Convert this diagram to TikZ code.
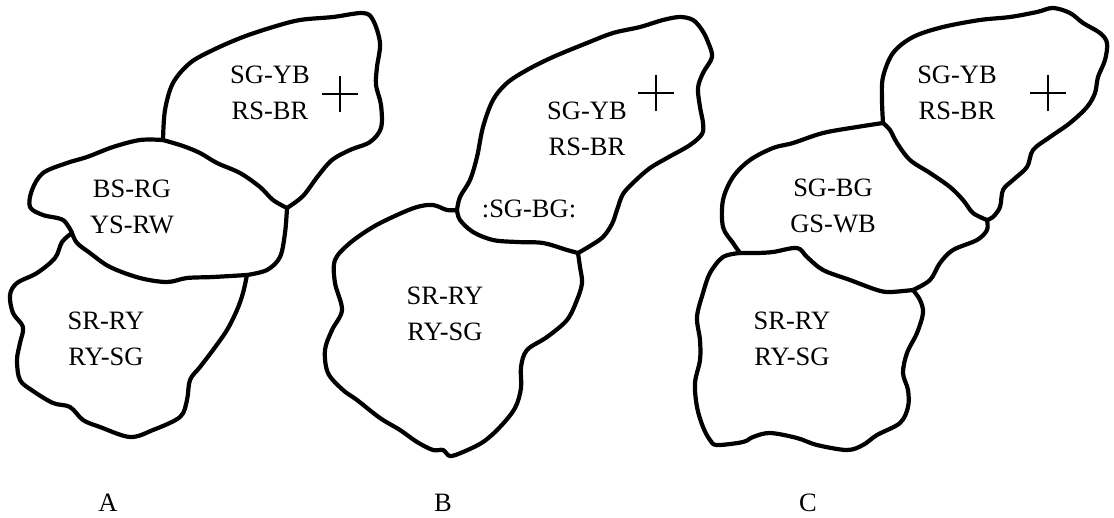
\documentclass[tikz,border=0pt]{standalone}
\usepackage{fontspec}
\setmainfont{Liberation Serif}
\begin{document}
\begin{tikzpicture}[x=1pt,y=-1pt,
  outline/.style={line width=4.2pt,line join=round,line cap=round},
  region/.style={align=center,font=\fontsize{26.5}{36}\selectfont,inner sep=0pt},
  figlabel/.style={font=\fontsize{26.5}{30}\selectfont,inner sep=0pt},
  crossmark/.style={line width=1.2pt}]
\useasboundingbox (0,0) rectangle (1114,517);
\tikzset{sm/.style={smooth,tension=0.55}}
% ---------- Figure A ----------
\draw[outline] plot[sm] coordinates {(163,140)(165,110)(173,83)(190,63)(213,50)(243,37)(273,27)(300,20)(333,17)(363,13)(373,20)(380,43)(377,67)(376,85)(381,105)(381,128)(370,142)(350,150)(332,160)(318,176)(303,196)(287,208)};
\draw[outline] plot[sm] coordinates {(163,140)(183,146)(200,153)(217,163)(240,173)(260,187)(273,200)(287,208)};
\draw[outline] plot[sm] coordinates {(163,140)(140,140)(113,147)(87,157)(67,163)(43,173)(32,190)(30,207)(43,215)(63,220)(72,233)};
\draw[outline] plot[sm] coordinates {(72,233)(77,243)(90,253)(110,267)(140,278)(167,282)(187,278)(213,277)(247,275)};
\draw[outline] plot[sm] coordinates {(247,275)(267,270)(280,257)(285,233)(287,208)};
\draw[outline] plot[sm] coordinates {(72,233)(62,242)(55,258)(37,273)(17,283)(10,295)(13,313)(23,327)(20,343)(17,360)(20,380)(33,391)(53,403)(70,407)(83,420)(100,427)(130,437)(153,430)(180,417)(187,400)(190,380)(200,367)(213,350)(227,330)(237,310)(243,293)(247,275)};
\node[region] (a1) at (270,93) {SG-YB\\RS-BR};
\node[region] (a2) at (132,207) {BS-RG\\YS-RW};
\node[region] (a3) at (106,339) {SR-RY\\RY-SG};
\coordinate (pa) at (340,94);
\draw[crossmark] ([xshift=-18pt]pa) -- ([xshift=18pt]pa) ([yshift=-18pt]pa) -- ([yshift=18pt]pa);
\node[figlabel] (la) at (108,503) {A};
% ---------- Figure B ----------
\draw[outline] plot[sm] coordinates {(457,210)(460,197)(470,180)(477,157)(483,127)(493,100)(507,83)(527,70)(553,57)(587,43)(613,33)(640,27)(663,20)(680,17)(693,20)(702,30)(708,42)(712,57)(703,73)(698,88)(700,107)(703,123)(702,134)(690,145)(667,158)(650,168)(635,181)(623,194)(617,210)(612,224)(603,237)(590,246)(578,253)};
\draw[outline] plot[sm] coordinates {(457,210)(460,220)(473,232)(493,240)(517,242)(543,243)(567,250)(578,253)};
\draw[outline] plot[sm] coordinates {(457,210)(447,210)(433,205)(417,207)(397,215)(373,227)(350,243)(335,260)(335,283)(342,310)(332,330)(325,350)(328,373)(343,390)(357,400)(380,418)(400,430)(417,442)(433,450)(443,450)(450,456)(463,452)(483,442)(500,427)(515,408)(521,388)(521,367)(527,350)(547,337)(567,320)(577,300)(582,283)(580,267)(578,253)};
\node[region] (b1) at (587,129) {SG-YB\\RS-BR};
\node[region] (b2) at (529,209) {:SG-BG:};
\node[region] (b3) at (445,314) {SR-RY\\RY-SG};
\coordinate (pb) at (656,93);
\draw[crossmark] ([xshift=-18pt]pb) -- ([xshift=18pt]pb) ([yshift=-18pt]pb) -- ([yshift=18pt]pb);
\node[figlabel] (lb) at (443,503) {B};
% ---------- Figure C ----------
\draw[outline] plot[sm] coordinates {(883,123)(882,100)(883,77)(893,53)(913,37)(943,27)(980,20)(1010,17)(1037,12)(1053,8)(1070,13)(1083,23)(1100,33)(1107,43)(1105,60)(1098,77)(1095,93)(1087,107)(1070,123)(1050,137)(1033,150)(1027,167)(1013,180)(1003,190)(1000,207)(993,217)(987,220)};
\draw[outline] plot[sm] coordinates {(883,123)(890,130)(897,143)(910,160)(930,173)(950,187)(963,200)(973,213)(987,220)};
\draw[outline] plot[sm] coordinates {(883,123)(857,127)(823,133)(793,143)(773,148)(750,160)(733,177)(723,200)(723,227)(733,243)(740,253)};
\draw[outline] plot[sm] coordinates {(740,253)(757,253)(773,252)(797,248)(807,257)(823,270)(850,280)(877,290)(890,292)(913,290)};
\draw[outline] plot[sm] coordinates {(913,290)(930,280)(940,263)(953,250)(977,240)(987,230)(987,220)};
\draw[outline] plot[sm] coordinates {(740,253)(723,257)(710,273)(703,293)(697,317)(700,340)(700,360)(695,383)(697,407)(703,427)(710,440)(717,445)(743,442)(753,437)(770,433)(797,438)(817,445)(847,450)(863,445)(877,435)(900,423)(908,407)(908,390)(903,373)(907,353)(917,333)(923,313)(920,300)(913,290)};
\node[region] (c1) at (957,93) {SG-YB\\RS-BR};
\node[region] (c2) at (833,206) {SG-BG\\GS-WB};
\node[region] (c3) at (792,339) {SR-RY\\RY-SG};
\coordinate (pc) at (1048,93);
\draw[crossmark] ([xshift=-18pt]pc) -- ([xshift=18pt]pc) ([yshift=-18pt]pc) -- ([yshift=18pt]pc);
\node[figlabel] (lc) at (808,503) {C};
\end{tikzpicture}
\end{document}
